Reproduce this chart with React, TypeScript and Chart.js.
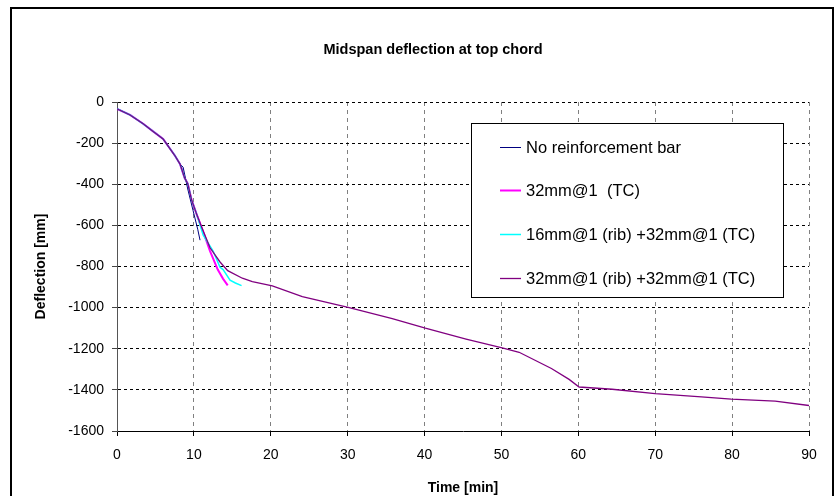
import React, { useEffect, useRef } from "react";
import { Chart, registerables } from "chart.js";

Chart.register(...registerables);

const CHART_TITLE = "Midspan deflection at top chord";
const X_TITLE = "Time [min]";
const Y_TITLE = "Deflection [mm]";

const SERIES_LABELS = [
  "No reinforcement bar",
  "32mm@1  (TC)",
  "16mm@1 (rib) +32mm@1 (TC)",
  "32mm@1 (rib) +32mm@1 (TC)",
];
const SERIES_COLORS = ["#000080", "#FF00FF", "#00FFFF", "#800080"];

// No reinforcement bar
const noBarTime = [0, 1.7, 3.4, 4.7, 6.0, 7.5, 8.2, 8.6, 9.2, 9.9, 10.5, 10.8];
const noBarDefl = [-33, -63, -106, -143, -180, -259, -302, -317, -423, -529, -619, -672];

// 32mm@1 (TC)
const tcTime = [0, 1.7, 3.4, 4.7, 6.0, 7.5, 8.2, 8.8, 9.2, 9.7, 10.4, 11.0, 11.6, 12.1, 13.1, 13.8, 14.4];
const tcDefl = [-33, -63, -106, -143, -180, -259, -302, -370, -397, -476, -550, -610, -672, -725, -815, -860, -892];

// 16mm@1 (rib) +32mm@1 (TC)
const ribSmallTime = [0, 1.7, 3.4, 4.7, 6.0, 7.5, 8.2, 8.8, 9.2, 9.7, 10.4, 11.2, 12.5, 13.4, 13.8, 14.7, 15.4, 16.2];
const ribSmallDefl = [-33, -63, -106, -143, -180, -259, -302, -370, -397, -476, -550, -646, -725, -804, -815, -866, -880, -893];

// 32mm@1 (rib) +32mm@1 (TC)
const ribLargeTime = [
  0, 1.7, 3.4, 4.7, 6.0, 7.5, 8.2, 8.8, 9.2, 9.7, 10.4, 11.0, 12.1, 13.4, 14.4, 16.3, 17.6, 20.2,
  24.1, 30.2, 35.8, 40.1, 45.4, 50.1, 52.3, 56.5, 58.8, 60.1, 64.4, 70, 76, 79.9, 85.6, 90,
];
const ribLargeDefl = [
  -33, -63, -106, -143, -180, -259, -302, -370, -397, -476, -550, -608, -709, -778, -820, -857, -873, -894,
  -947, -1000, -1053, -1100, -1153, -1196, -1217, -1296, -1349, -1386, -1397, -1418, -1434, -1445, -1455, -1476,
];

const X_MIN = 0;
const X_MAX = 90;
const X_STEP = 10;
const Y_MIN = -1600;
const Y_MAX = 0;
const Y_STEP = 200;

const FONT = "'Liberation Sans', Arial, sans-serif";

const toPoints = (xs: number[], ys: number[]) => xs.map((x, i) => ({ x, y: ys[i] }));

const extrasPlugin = {
  id: "extras",
  afterDraw(chart: any) {
    const ctx = chart.ctx as CanvasRenderingContext2D;
    ctx.save();
    ctx.setLineDash([]);
    // chart title
    ctx.fillStyle = "#000000";
    ctx.font = `bold 14.5px ${FONT}`;
    ctx.textAlign = "center";
    ctx.textBaseline = "middle";
    ctx.fillText(CHART_TITLE, 433, 50);
    // legend box
    const lx = 471, ly = 123, lw = 312, lh = 174;
    ctx.fillStyle = "#ffffff";
    ctx.fillRect(lx, ly, lw, lh);
    ctx.strokeStyle = "#000000";
    ctx.lineWidth = 1;
    ctx.strokeRect(lx + 0.5, ly + 0.5, lw, lh);
    const ys = [147, 190, 234, 278];
    chart.data.datasets.forEach((ds: any, i: number) => {
      const y = ys[i];
      ctx.strokeStyle = ds.borderColor;
      ctx.lineWidth = ds.borderWidth;
      ctx.beginPath();
      ctx.moveTo(500, y + 0.5);
      ctx.lineTo(521, y + 0.5);
      ctx.stroke();
      ctx.fillStyle = "#000000";
      ctx.font = `16.5px ${FONT}`;
      ctx.textBaseline = "middle";
      ctx.textAlign = "left";
      ctx.fillText(ds.label, 526, y + 1);
    });
    // outer frame (top, left, right)
    ctx.strokeStyle = "#000000";
    ctx.lineWidth = 2;
    ctx.beginPath();
    ctx.moveTo(11, 496);
    ctx.lineTo(11, 8);
    ctx.lineTo(833, 8);
    ctx.lineTo(833, 496);
    ctx.stroke();
    ctx.restore();
  },
};

export default function App() {
  const canvasRef = useRef<HTMLCanvasElement | null>(null);

  useEffect(() => {
    const canvas = canvasRef.current;
    if (!canvas) return;
    const seriesX = [noBarTime, tcTime, ribSmallTime, ribLargeTime];
    const seriesY = [noBarDefl, tcDefl, ribSmallDefl, ribLargeDefl];
    const widths = [1, 2, 1.5, 1.3];
    const orders = [2, 3, 1, 0];
    const chart = new Chart(canvas, {
      type: "line",
      data: {
        datasets: SERIES_LABELS.map((label, i) => ({
          label,
          data: toPoints(seriesX[i], seriesY[i]),
          borderColor: SERIES_COLORS[i],
          backgroundColor: SERIES_COLORS[i],
          borderWidth: widths[i],
          pointRadius: 0,
          tension: 0,
          fill: false,
          order: orders[i],
        })),
      },
      options: {
        responsive: false,
        animation: false,
        maintainAspectRatio: false,
        layout: { padding: { left: 10, right: 31, top: 102, bottom: 0 } },
        plugins: {
          legend: { display: false },
          tooltip: { enabled: false },
          title: { display: false },
        },
        scales: {
          x: {
            type: "linear",
            min: X_MIN,
            max: X_MAX,
            afterFit: (scale: any) => {
              scale.height = 65;
            },
            ticks: {
              stepSize: X_STEP,
              color: "#000",
              font: { family: FONT, size: 14 },
              padding: 11,
              maxRotation: 0,
            },
            grid: {
              color: "#808080",
              lineWidth: 1,
              tickLength: 5,
              tickColor: "#000",
              tickBorderDash: [],
            },
            border: { display: true, color: "#000", width: 1, dash: [4, 4] },
            title: {
              display: true,
              text: X_TITLE,
              color: "#000",
              font: { family: FONT, size: 14, weight: "bold" },
              padding: { top: 0, bottom: -1 },
            },
          },
          y: {
            type: "linear",
            min: Y_MIN,
            max: Y_MAX,
            afterFit: (scale: any) => {
              scale.width = 107;
            },
            ticks: {
              stepSize: Y_STEP,
              color: "#000",
              font: { family: FONT, size: 14 },
              padding: 8,
              callback: (v: any) => String(v),
            },
            grid: {
              color: "#000",
              lineWidth: 1,
              tickLength: 5,
              tickColor: "#444",
              tickBorderDash: [],
            },
            border: { display: true, color: "#555", width: 1, dash: [3, 3] },
            title: {
              display: true,
              text: Y_TITLE,
              color: "#000",
              font: { family: FONT, size: 14, weight: "bold" },
              padding: { top: 22.5, bottom: 0 },
            },
          },
        },
      },
      plugins: [extrasPlugin],
    });
    return () => chart.destroy();
  }, []);

  return (
    <div style={{ position: "fixed", left: 0, top: 0, width: 840, height: 496, background: "#fff" }}>
      <canvas ref={canvasRef} width={840} height={496} style={{ display: "block", width: 840, height: 496 }} />
    </div>
  );
}
